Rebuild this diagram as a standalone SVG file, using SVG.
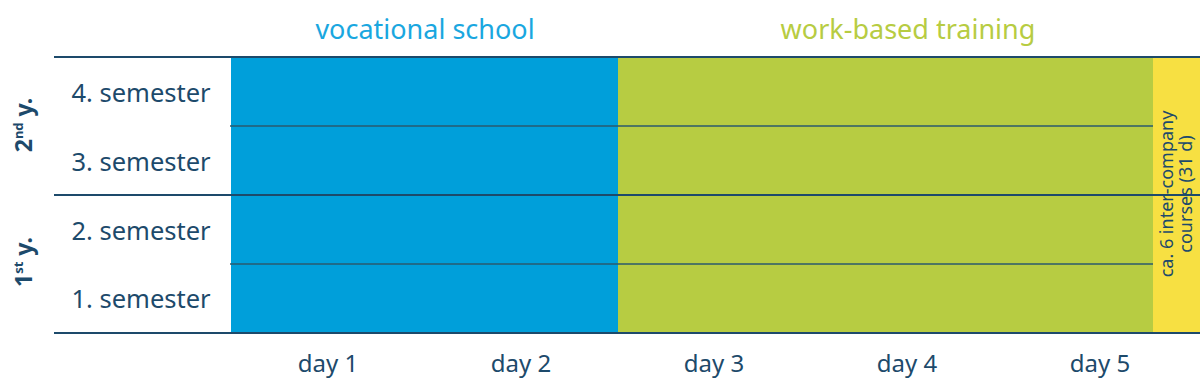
<svg xmlns="http://www.w3.org/2000/svg" width="1200" height="380" viewBox="0 0 1200 380">
<style>
.t{font-family:"Noto Sans","Liberation Sans",sans-serif;fill:#1d4a6b}
.sem{font-size:25.5px;text-anchor:middle}
.day{font-size:24px;text-anchor:middle}
.yr{font-size:23px;font-weight:bold;text-anchor:middle}
.head{font-family:"Noto Sans","Liberation Sans",sans-serif;font-size:27px;text-anchor:middle}
.thin{stroke:#2a5a6e;stroke-width:1.5}
.thick{stroke:#1d4a6b;stroke-width:2}
</style>
<g id="headers">
<text class="head" x="425" y="39" fill="#1aa7e0">vocational school</text>
<text class="head" x="908" y="39" fill="#b7cc42">work-based training</text>
</g>
<g id="vocational-school"><rect x="231" y="57" width="387" height="276" fill="#009fda"/></g>
<g id="work-based-training"><rect x="618" y="57" width="535" height="276" fill="#b7cc42"/></g>
<g id="inter-company-courses">
<rect x="1153" y="57" width="47" height="276" fill="#f7e042"/>
<text class="t" font-size="18" text-anchor="middle" transform="translate(1175 194) rotate(-90)"><tspan x="0" y="-2">ca. 6 inter-company</tspan><tspan x="0" y="17">courses (31 d)</tspan></text>
</g>
<g id="grid">
<line class="thick" x1="54" y1="57" x2="1200" y2="57"/>
<line class="thin" x1="230" y1="126" x2="1153" y2="126"/>
<line class="thick" x1="54" y1="195" x2="1200" y2="195"/>
<line class="thin" x1="230" y1="264" x2="1153" y2="264"/>
<line class="thick" x1="54" y1="333" x2="1200" y2="333"/>
</g>
<g id="semesters">
<text class="t sem" x="141" y="102">4. semester</text>
<text class="t sem" x="141" y="171">3. semester</text>
<text class="t sem" x="141" y="240">2. semester</text>
<text class="t sem" x="141" y="308">1. semester</text>
</g>
<g id="years">
<text class="t yr" transform="translate(32 125) rotate(-90)">2<tspan font-size="13" dy="-9">nd</tspan><tspan dy="9"> y.</tspan></text>
<text class="t yr" transform="translate(32 262) rotate(-90)">1<tspan font-size="13" dy="-9">st</tspan><tspan dy="9"> y.</tspan></text>
</g>
<g id="days">
<text class="t day" x="328" y="372">day 1</text>
<text class="t day" x="521" y="372">day 2</text>
<text class="t day" x="714" y="372">day 3</text>
<text class="t day" x="907" y="372">day 4</text>
<text class="t day" x="1100" y="372">day 5</text>
</g>
</svg>
